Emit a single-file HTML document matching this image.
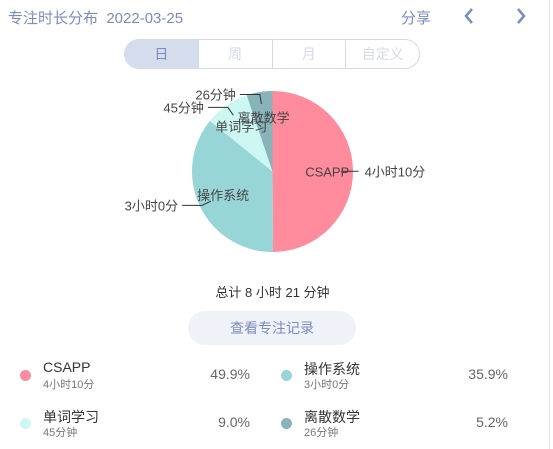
<!DOCTYPE html>
<html><head><meta charset="utf-8"><style>
body{margin:0;width:553px;height:449px;background:#fff;font-family:"Liberation Sans","Noto Sans CJK SC",sans-serif;position:relative;overflow:hidden}
.a{position:absolute;white-space:nowrap}
.hd{color:#7a8bbf;font-size:15px}
.seg{position:absolute;top:39px;left:124px;width:294px;height:28px;border:1px solid #d3d9ec;border-radius:15px;overflow:hidden;display:flex}
.seg div{flex:1;text-align:center;line-height:28px;font-size:14px;color:#d4dae9;border-left:1px solid #d3d9ec}
.seg div:first-child{border-left:none;background:#d5dcec;color:#7a8bbf}
.nm{font-size:14px;color:#333}.sub{font-size:11px;color:#777}.pc{font-size:14px;color:#666}
.dot{position:absolute;width:11px;height:11px;border-radius:50%}
</style></head><body>
<div class="a hd" style="left:8px;top:7px">专注时长分布 &nbsp;2022-03-25</div>
<div class="a hd" style="left:401px;top:7px">分享</div>
<svg class="a" style="left:462px;top:7px" width="14" height="18"><polyline points="10,2 4,9 10,16" fill="none" stroke="#7a8bbf" stroke-width="2.5"/></svg>
<svg class="a" style="left:514px;top:7px" width="14" height="18"><polyline points="4,2 10,9 4,16" fill="none" stroke="#7a8bbf" stroke-width="2.5"/></svg>
<div class="seg">
<div>日</div><div>周</div><div>月</div><div>自定义</div></div>
<svg id="pie" class="a" style="left:0;top:0" width="553" height="280"></svg>
<div class="a" style="left:0;width:545px;text-align:center;top:282px;font-size:13px;color:#333">总计 8 小时 21 分钟</div>
<div class="a" style="left:188px;top:311px;width:168px;height:34px;border-radius:17px;background:#f0f2fa;color:#7a8bbf;font-size:14px;text-align:center;line-height:34px">查看专注记录</div>
<div id="legend"></div>
<div class="a" style="left:549px;top:0;width:1px;height:449px;background:#e6e6e6"></div>
<script>
const cats=["CSAPP","操作系统","单词学习","离散数学"];
const mins=[250,180,45,26];
const labels=["4小时10分","3小时0分","45分钟","26分钟"];
const pcts=["49.9%","35.9%","9.0%","5.2%"];
const colors=["#ff8b9c","#98d5d6","#cdf7f3","#87b3b9"];
const cx=272.5,cy=171.5,R=80.5;
const svg=document.getElementById('pie');const NS="http://www.w3.org/2000/svg";
const total=mins.reduce((a,b)=>a+b,0);
function pt(a,r){return[cx+r*Math.sin(a),cy-r*Math.cos(a)];}
let a0=0;const texts=[];
mins.forEach((m,i)=>{
 const a1=a0+m/total*2*Math.PI;
 const p0=pt(a0,R),p1=pt(a1,R);
 const path=document.createElementNS(NS,'path');
 path.setAttribute('d',`M${cx},${cy}L${p0[0]},${p0[1]}A${R},${R} 0 ${a1-a0>Math.PI?1:0} 1 ${p1[0]},${p1[1]}Z`);
 path.setAttribute('fill',colors[i]);
 
 
 svg.appendChild(path);
 const am=(a0+a1)/2;
 const q1=pt(am,R*0.85),q2=pt(am,R*0.97);
 const right=Math.sin(am)>=0;
 const q3=[q2[0]+(right?8:-20),q2[1]];
 const ln=document.createElementNS(NS,'polyline');
 ln.setAttribute('points',`${q1} ${q2} ${q3}`);
 ln.setAttribute('fill','none');ln.setAttribute('stroke','#333');ln.setAttribute('stroke-width','1');
 
 
 svg.appendChild(ln);
 const c=pt(am,R*0.68);
 texts.push([cats[i],c[0],c[1]+5,'middle','slice-name-'+i]);
 texts.push([labels[i],q3[0]+(right?6:-4),q3[1]+5,right?'start':'end','slice-value-'+i]);
 a0=a1;
});
texts.forEach(t=>{const e=document.createElementNS(NS,'text');
 e.textContent=t[0];e.setAttribute('x',t[1]);e.setAttribute('y',t[2]);e.setAttribute('text-anchor',t[3]);
 e.setAttribute('font-size','13');e.setAttribute('fill','#444');
 
 
 svg.appendChild(e);});
const lg=document.getElementById('legend');
cats.forEach((c,i)=>{
 const x=i%2?281:20,row=Math.floor(i/2),top=362+row*48;
 const d=document.createElement('div');
 
 
 d.innerHTML=`<div class="dot" style="left:${x}px;top:${top+8}px;background:${colors[i]}"></div>
 <div class="a nm" style="left:${x+23}px;top:${top-3}px">${c}</div>
 <div class="a sub" style="left:${x+23}px;top:${top+14}px">${labels[i]}</div>
 <div class="a pc" style="left:${i%2?x+147:x+150}px;width:80px;text-align:right;top:${top+4}px">${pcts[i]}</div>`;
 lg.appendChild(d);});
</script>
</body></html>
